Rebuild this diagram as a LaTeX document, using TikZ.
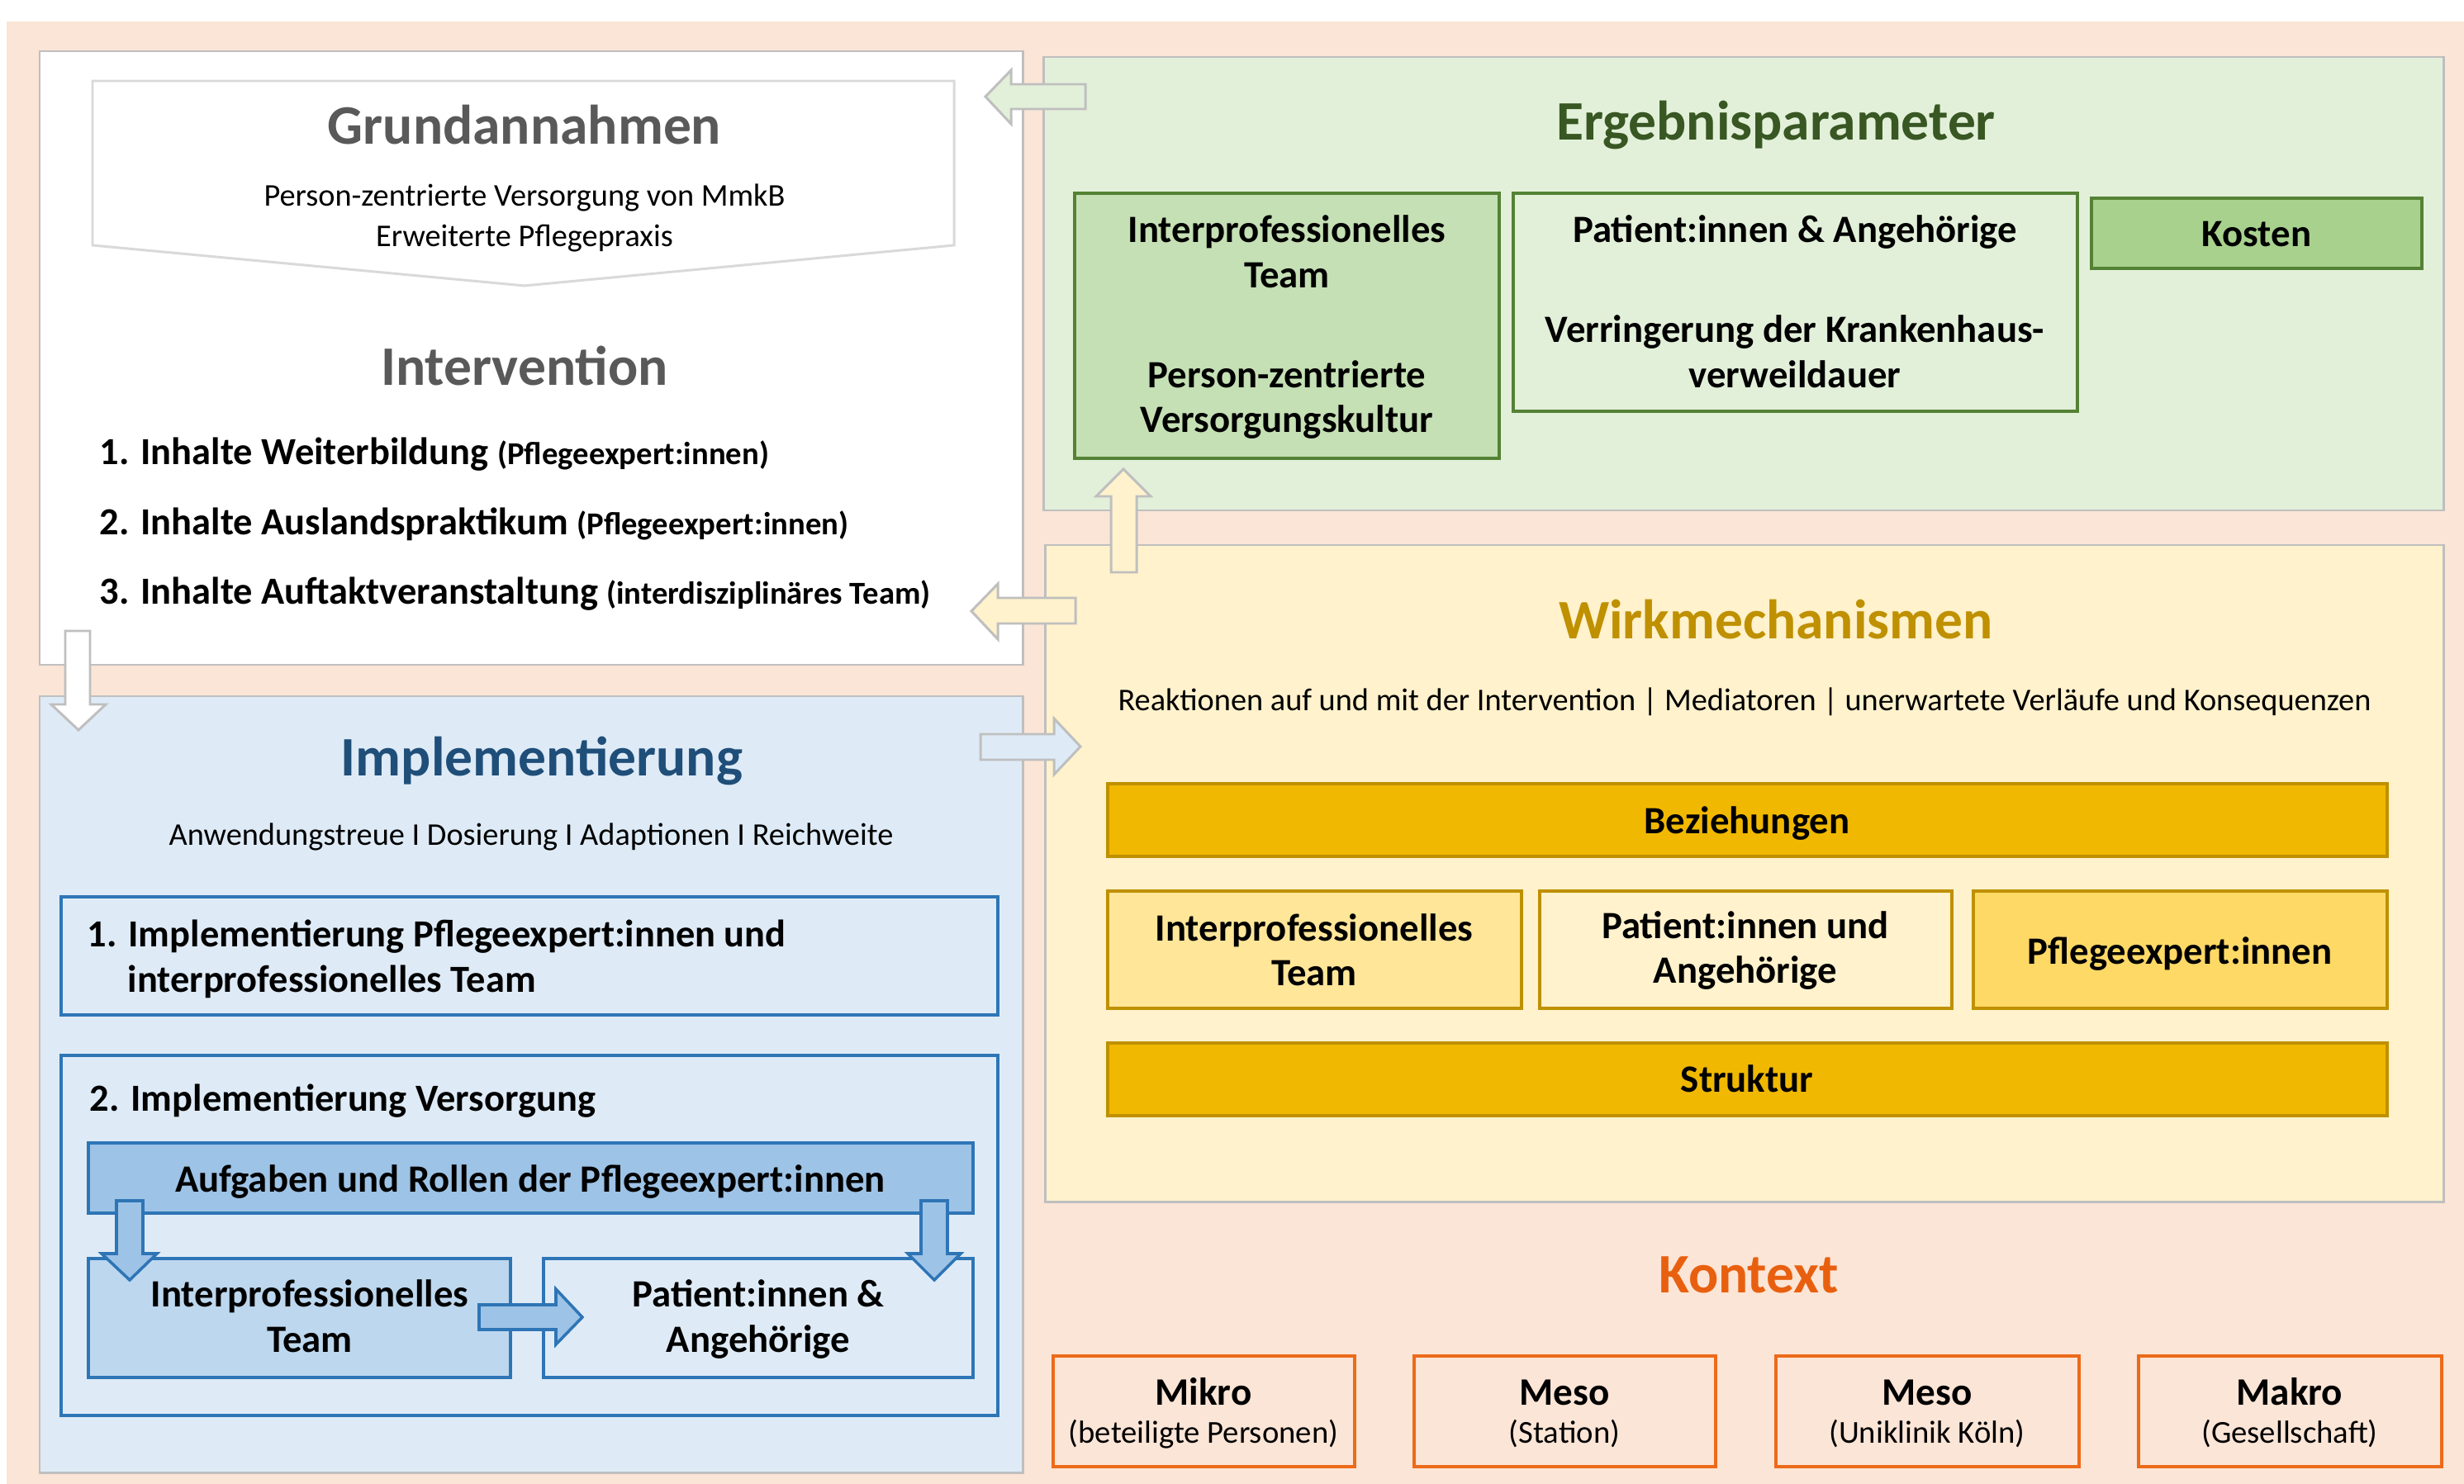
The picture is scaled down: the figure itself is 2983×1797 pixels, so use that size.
\documentclass[tikz,border=0pt]{standalone}
\usepackage{fontspec}
\setmainfont{Carlito}
\usetikzlibrary{fit}
\definecolor{pinkbg}{HTML}{FBE5D6}
\definecolor{bordergray}{HTML}{BFBFBF}
\definecolor{chevgray}{HTML}{D9D9D9}
\definecolor{greenbg}{HTML}{E2F0D9}
\definecolor{greenA}{HTML}{C5E0B4}
\definecolor{greenC}{HTML}{A9D18E}
\definecolor{greenline}{HTML}{548235}
\definecolor{greentitle}{HTML}{385723}
\definecolor{yellowbg}{HTML}{FFF2CC}
\definecolor{gold}{HTML}{F0B800}
\definecolor{goldline}{HTML}{BF9000}
\definecolor{ylwA}{HTML}{FFE699}
\definecolor{ylwC}{HTML}{FFD966}
\definecolor{bluebg}{HTML}{DEEBF7}
\definecolor{blueline}{HTML}{2E75B6}
\definecolor{blueA}{HTML}{9DC3E6}
\definecolor{blueB}{HTML}{BDD7EE}
\definecolor{bluetitle}{HTML}{1F4E79}
\definecolor{orangeK}{HTML}{E8600F}
\definecolor{orangeline}{HTML}{ED6A1A}
\definecolor{graytitle}{HTML}{595959}
\begin{document}
\begin{tikzpicture}[x=0.01cm,y=-0.01cm,
  panel/.style={draw=bordergray, line width=0.85pt, inner sep=0pt},
  gbox/.style={draw=greenline, line width=1pt, inner sep=0pt},
  ybox/.style={draw=goldline, line width=1pt, inner sep=0pt},
  bbox/.style={draw=blueline, line width=1pt, inner sep=0pt},
  kbox/.style={draw=orangeline, line width=1.1pt, fill=pinkbg, inner sep=0pt},
  title/.style={font=\fontsize{19.2}{23}\selectfont\bfseries, anchor=base, inner sep=0pt},
  sub/.style={font=\fontsize{10.9}{13}\selectfont, anchor=base, inner sep=0pt},
  item/.style={font=\fontsize{13.2}{16}\selectfont\bfseries, anchor=base west, inner sep=0pt},
  btxt/.style={font=\fontsize{13.3}{16}\selectfont\bfseries, anchor=base, inner sep=0pt},
  ktxt/.style={font=\fontsize{13.4}{16}\selectfont\bfseries, anchor=base, inner sep=0pt},
  ksub/.style={font=\fontsize{11}{13}\selectfont, anchor=base, inner sep=0pt},
  grayarrow/.style={draw=bordergray, line width=0.85pt},
  bluearrow/.style={draw=blueline, line width=1pt, fill=blueA},
]
\newcommand{\smallpar}[1]{{\fontsize{11}{13}\selectfont #1}}
\useasboundingbox (0,0) rectangle (2983,1797);
\fill[white] (0,0) rectangle (2983,1797);
\node[fill=pinkbg, inner sep=0pt, fit={(8,26) (2983,1797)}] (bg) {};

% ---------- Intervention panel ----------
\node[panel, fill=white, fit={(48,62) (1238,805)}] (interv) {};
\path[draw=chevgray, line width=0.85pt, fill=white] (112,98) -- (1155,98) -- (1155,297) -- (635,346) -- (112,297) -- cycle;
\node[title, text=graytitle] (grund) at (635,175) {Grundannahmen};
\node[sub] (g1) at (635,250) {Person-zentrierte Versorgung von MmkB};
\node[sub] (g2) at (635,299) {Erweiterte Pflegepraxis};
\node[title, text=graytitle] (intt) at (635,467) {Intervention};
\node[item] (i1) at (120,562) {1. Inhalte Weiterbildung \smallpar{(Pflegeexpert:innen)}};
\node[item] (i2) at (120,647) {2. Inhalte Auslandspraktikum \smallpar{(Pflegeexpert:innen)}};
\node[item] (i3) at (120,731) {3. Inhalte Auftaktveranstaltung \smallpar{(interdisziplinäres Team)}};

% ---------- Ergebnisparameter panel ----------
\node[panel, fill=greenbg, fit={(1263,69) (2958,618)}] (ergeb) {};
\node[title, text=greentitle] (ergt) at (2150,170) {Ergebnisparameter};
\node[gbox, fill=greenA, fit={(1301,234) (1815,555)}] (eA) {};
\node[gbox, fill=greenbg, fit={(1832,234) (2515,498)}] (eB) {};
\node[gbox, fill=greenC, fit={(2532,240) (2932,325)}] (eC) {};
\node[btxt] at (1558,294) {Interprofessionelles};
\node[btxt] at (1558,349) {Team};
\node[btxt] at (1558,469) {Person-zentrierte};
\node[btxt] at (1558,523) {Versorgungskultur};
\node[btxt] at (2173,294) {Patient:innen \& Angehörige};
\node[btxt] at (2173,415) {Verringerung der Krankenhaus-};
\node[btxt] at (2173,469) {verweildauer};
\node[btxt] at (2732,299) {Kosten};

% ---------- Wirkmechanismen panel ----------
\node[panel, fill=yellowbg, fit={(1265,660) (2958,1455)}] (wirk) {};
\node[title, text=goldline] (wirkt) at (2150,773) {Wirkmechanismen};
\node[sub] (wsub) at (2112,860) {Reaktionen auf und mit der Intervention | Mediatoren | unerwartete Verläufe und Konsequenzen};
\node[ybox, fill=gold, fit={(1341,949) (2890,1037)}] (bez) {};
\node[ybox, fill=ylwA, fit={(1341,1079) (1842,1221)}] (wA) {};
\node[ybox, fill=yellowbg, fit={(1864,1079) (2363,1221)}] (wB) {};
\node[ybox, fill=ylwC, fit={(2389,1079) (2890,1221)}] (wC) {};
\node[ybox, fill=gold, fit={(1341,1263) (2890,1351)}] (str) {};
\node[btxt] at (2115,1009) {Beziehungen};
\node[btxt] at (1591,1139) {Interprofessionelles};
\node[btxt] at (1591,1193) {Team};
\node[btxt] at (2113,1136) {Patient:innen und};
\node[btxt] at (2113,1190) {Angehörige};
\node[btxt] at (2639,1167) {Pflegeexpert:innen};
\node[btxt] at (2115,1322) {Struktur};

% ---------- Implementierung panel ----------
\node[panel, fill=bluebg, fit={(48,843) (1238,1783)}] (impl) {};
\node[title, text=bluetitle] (implt) at (656,939) {Implementierung};
\node[sub] (isub) at (643,1023) {Anwendungstreue I Dosierung I Adaptionen I Reichweite};
\node[bbox, fit={(74,1086) (1208,1229)}] (iA) {};
\node[item] at (105,1146) {1. Implementierung Pflegeexpert:innen und};
\node[item] at (154,1201) {interprofessionelles Team};
\node[bbox, fit={(74,1278) (1208,1714)}] (iB) {};
\node[item] at (108,1345) {2. Implementierung Versorgung};
\node[bbox, fill=blueA, fit={(107,1384) (1178,1469)}] (aufg) {};
\node[btxt] at (642,1443) {Aufgaben und Rollen der Pflegeexpert:innen};
\node[bbox, fill=blueB, fit={(107,1524) (618,1668)}] (ipt) {};
\node[bbox, fill=bluebg, fit={(658,1524) (1178,1668)}] (pat) {};
\node[btxt] at (375,1582) {Interprofessionelles};
\node[btxt] at (375,1637) {Team};
\node[btxt] at (918,1582) {Patient:innen \&};
\node[btxt] at (918,1637) {Angehörige};
% blue block arrows
\path[bluearrow] (141,1454) -- (173,1454) -- (173,1518) -- (190,1518) -- (157,1550) -- (123,1518) -- (141,1518) -- cycle;
\path[bluearrow] (1115,1454) -- (1147,1454) -- (1147,1518) -- (1163,1518) -- (1131,1550) -- (1099,1518) -- (1115,1518) -- cycle;
\path[bluearrow] (580,1580) -- (673,1580) -- (673,1561) -- (705,1595) -- (673,1628) -- (673,1610) -- (580,1610) -- cycle;

% ---------- Kontext ----------
\node[title, text=orangeK] (kont) at (2117,1565) {Kontext};
\node[kbox, fit={(1275,1642) (1640,1776)}] (k1) {};
\node[kbox, fit={(1712,1642) (2077,1776)}] (k2) {};
\node[kbox, fit={(2150,1642) (2517,1776)}] (k3) {};
\node[kbox, fit={(2589,1642) (2956,1776)}] (k4) {};
\node[ktxt] at (1457,1701) {Mikro};
\node[ksub] at (1457,1747) {(beteiligte Personen)};
\node[ktxt] at (1894,1701) {Meso};
\node[ksub] at (1894,1747) {(Station)};
\node[ktxt] at (2333,1701) {Meso};
\node[ksub] at (2333,1747) {(Uniklinik Köln)};
\node[ktxt] at (2772,1701) {Makro};
\node[ksub] at (2772,1747) {(Gesellschaft)};

% ---------- gray block arrows between panels ----------
\path[grayarrow, fill=greenbg] (1193,117) -- (1224,85) -- (1224,102) -- (1314,102) -- (1314,132) -- (1224,132) -- (1224,150) -- cycle;
\path[grayarrow, fill=yellowbg] (1360,568) -- (1393,601) -- (1376,601) -- (1376,693) -- (1345,693) -- (1345,601) -- (1327,601) -- cycle;
\path[grayarrow, fill=yellowbg] (1176,740) -- (1208,707) -- (1208,724) -- (1302,724) -- (1302,755) -- (1208,755) -- (1208,774) -- cycle;
\path[grayarrow, fill=bluebg] (1187,889) -- (1276,889) -- (1276,870) -- (1308,904) -- (1276,938) -- (1276,920) -- (1187,920) -- cycle;
\path[grayarrow, fill=white] (79,764) -- (109,764) -- (109,853) -- (128,853) -- (95,884) -- (62,853) -- (79,853) -- cycle;
\end{tikzpicture}
\end{document}
